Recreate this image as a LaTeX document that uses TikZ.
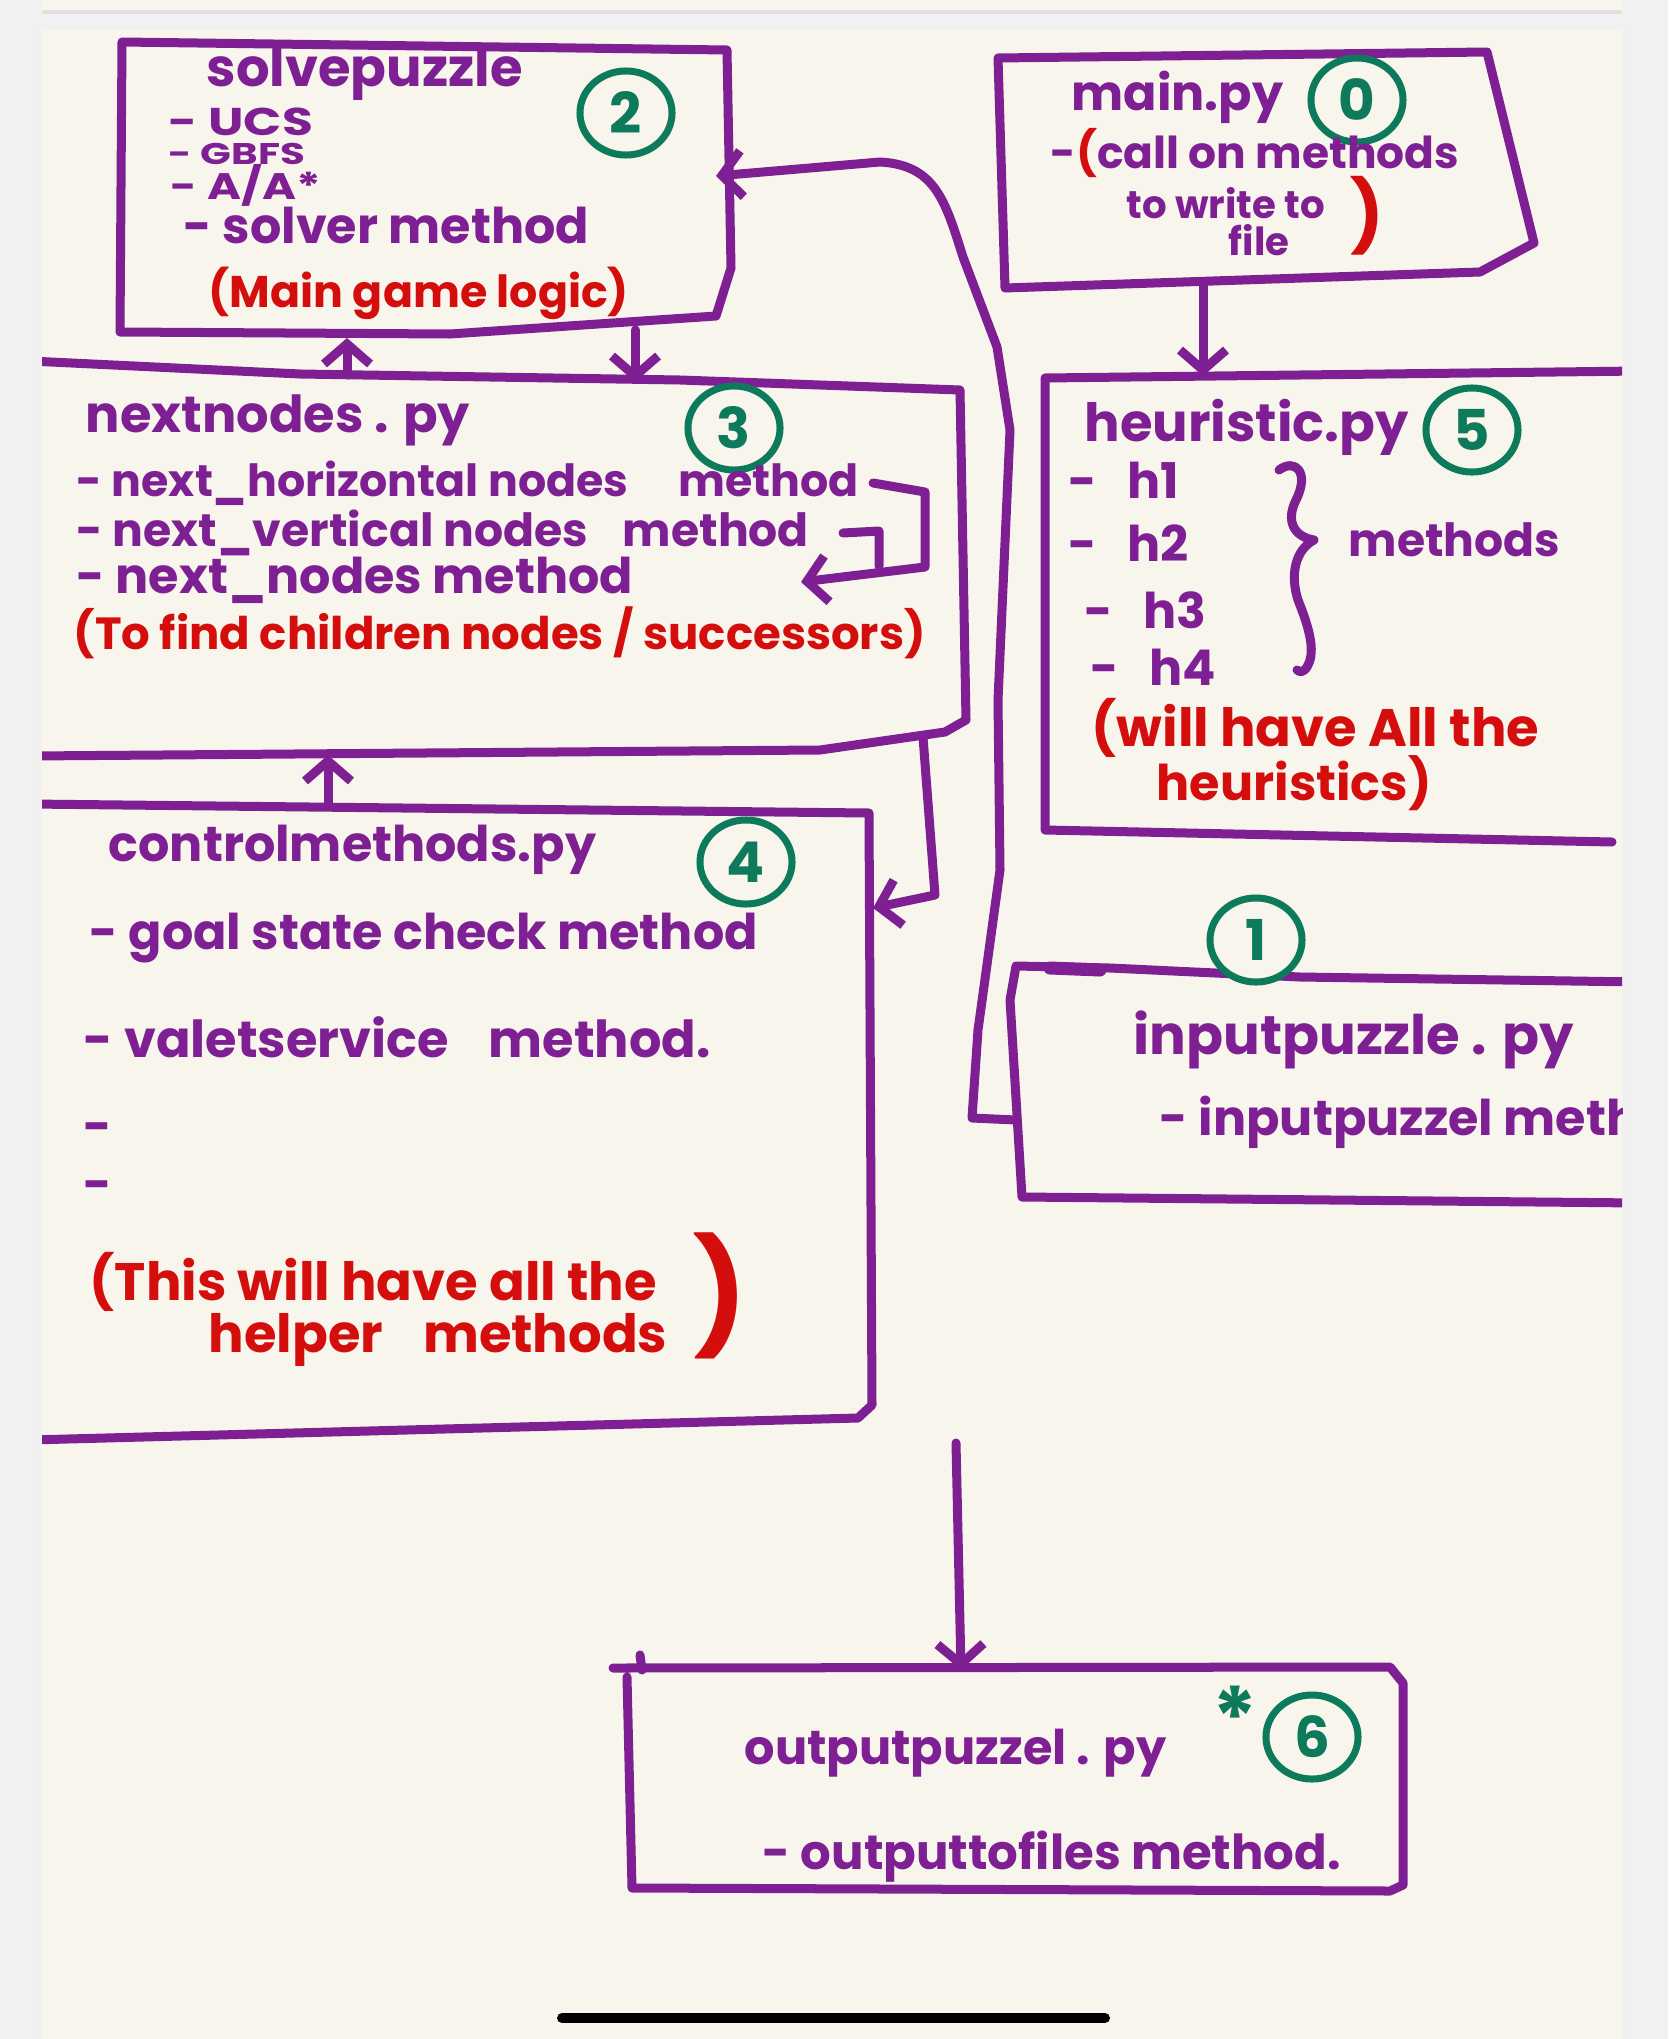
\documentclass[tikz,border=0pt]{standalone}
\usepackage{fontspec}
\setmainfont{Poppins}
\usetikzlibrary{arrows.meta, shapes.geometric, positioning}
\definecolor{penpurple}{HTML}{7E2094}
\definecolor{penred}{HTML}{D40D0D}
\definecolor{pengreen}{HTML}{0D7A5B}
\definecolor{paper}{HTML}{F7F5EC}
\definecolor{margin}{HTML}{F1F1F1}

\begin{document}
\begin{tikzpicture}[x=0.01cm, y=-0.01cm, line cap=round, line join=round,
		pen/.style={draw=penpurple, line width=0.09cm},
		arr/.style={pen, -{Straight Barb[length=0.2cm, width=0.46cm]}},
		txt/.style={anchor=west, inner sep=0pt, text=penpurple, font=\bfseries\fontsize{#1}{#1}\selectfont},
		txt/.default=14pt,
		note/.style={txt=#1, text=penred},
		note/.default=14pt,
		num/.style={ellipse, draw=pengreen, fill=paper, line width=0.07cm, text=pengreen, inner sep=0pt,
			minimum width=0.92cm, minimum height=0.84cm, font=\bfseries\fontsize{16pt}{16pt}\selectfont}]
			\useasboundingbox (0,0) rectangle (1668,2039);
			% 背景
			\fill[margin] (0,0) rectangle (1668,2039);
			\fill[black!12] (42,10) rectangle (1622,14);
			\fill[paper] (42,0) rectangle (1622,10);
			\fill[black!6] (39,26) rectangle (1626,2039);
			\fill[paper] (42,29) rectangle (1622,2039);
			\begin{scope}
			\clip (42,29) rectangle (1622,2039);
			% 绘制方框
			\draw[pen] (122,42) -- (727,50) -- (731,268) -- (716,316) -- (450,334) -- (120,332) -- cycle;
			\draw[pen] (998,58) -- (1487,52) -- (1534,243) -- (1480,272) -- (1005,288) -- cycle;
			\draw[pen] (1640,371) -- (1045,378) -- (1045,830) -- (1612,842);
			\draw[pen] (30,361) -- (300,374) -- (680,380) -- (960,390) -- (966,720) -- (945,732) -- (820,750) -- (30,756);
			\draw[pen] (30,804) -- (869,813) -- (872,1405) -- (858,1418) -- (30,1440);
			\draw[pen] (1640,982) -- (1300,977) -- (1110,968) -- (1016,966) -- (1010,1000) -- (1022,1197) -- (1640,1203);
			\draw[pen, line width=0.13cm] (1050,968) -- (1100,970);
			\draw[pen] (640,1655) -- (642,1670);
			\draw[pen] (613,1668) -- (1390,1667) -- (1403,1683) -- (1403,1885) -- (1390,1891) -- (632,1888) -- (627,1677);
			% 连线端点
			\coordinate (solveR) at (716,176);
			\coordinate (solveB1) at (347,338);
			\coordinate (solveB2) at (635,330);
			\coordinate (mainB) at (1203,282);
			\coordinate (heurT) at (1203,376);
			\coordinate (nextT1) at (347,375);
			\coordinate (nextT2) at (635,382);
			\coordinate (nextB1) at (328,755);
			\coordinate (nextB2) at (923,737);
			\coordinate (ctrlT) at (328,806);
			\coordinate (ctrlR) at (873,908);
			\coordinate (inpL) at (1016,1120);
			\coordinate (outIn) at (956,1443);
			\coordinate (outT) at (961,1670);
			% 连线
			\draw[arr] (mainB) -- (heurT);
			\draw[arr] (nextT1) -- (solveB1);
			\draw[arr] (solveB2) -- (nextT2);
			\draw[arr] (ctrlT) -- (nextB1);
			\draw[arr] (nextB2) -- (935,895) -- (ctrlR);
			\draw[arr] (inpL) -- (972,1118) -- (978,1030) -- (1000,870) -- (998,700) -- (1010,430) -- (997,347) -- (963,257)
				.. controls (945,200) and (935,165) .. (880,162) -- (solveR);
			\draw[arr] (outIn) -- (outT);
			\draw[arr] (873,483) -- (925,492) -- (925,567) -- (801,582);
			\draw[pen] (843,533) -- (879,531) -- (879,566);
			\draw[pen] (1279,470) .. controls (1295,458) and (1310,472) .. (1296,500)
				.. controls (1285,522) and (1295,537) .. (1314,540)
				.. controls (1295,550) and (1290,575) .. (1298,600)
				.. controls (1308,625) and (1316,650) .. (1308,665)
				.. controls (1305,672) and (1300,673) .. (1297,670);
			% 编号
			\foreach \n/\x/\y in {0/1357/100, 1/1256/940, 2/626/113, 3/734/428, 4/746/862, 5/1472/430, 6/1312/1737} {
				\node[num] (num\n) at (\x,\y) {\n};
			}
			\node[txt=24pt, text=pengreen] (star) at (1212,1717) {*};
			% solvepuzzle
			\node[txt=15pt] (solvet) at (206,74) {solvepuzzle};
			\node[txt=11pt] (ucs) at (168,122) {\scalebox{1.3}[1]{- UCS}};
			\node[txt=8.5pt] (gbfs) at (168,154) {\scalebox{1.35}[1]{- GBFS}};
			\node[txt=10.5pt] (astar) at (170,185) {\scalebox{1.25}[1]{- A/A*}};
			\node[txt] (solver) at (183,225) {- solver method};
			\node[note=12.6pt] (logic) at (208,293) {(Main game logic)};
			% main.py
			\node[txt=14pt] (maint) at (1071,97) {main.py};
			\node[txt=12.5pt] (call) at (1050,153) {-{\color{penred}(}call on methods};
			\node[txt=11pt] (write) at (1126,203) {to write to};
			\node[txt=11pt] (file) at (1228,240) {file};
			\node[note=20pt] (mainpar) at (1350,216) {)};
			% nextnodes.py
			\node[txt=14.5pt] (nextt) at (85,420) {nextnodes . py};
			\node[txt=12.6pt] (hor) at (76,483) {- next\_horizontal nodes\hspace{0.5cm}method};
			\node[txt=13pt] (ver) at (76,533) {- next\_vertical nodes\hspace{0.35cm}method};
			\node[txt] (nn) at (76,580) {- next\_nodes method};
			\node[note=12.8pt] (succ) at (73,633) {(To find children nodes / successors)};
			% heuristic.py
			\node[txt=15pt] (heurt) at (1084,427) {heuristic.py};
			\foreach \i/\x/\y in {1/1068/480, 2/1068/543, 3/1084/610, 4/1090/667} {
				\node[txt] (h\i) at (\x,\y) {-\hspace{0.3cm}h\i};
			}
			\node[txt=13pt] (meth) at (1348,540) {methods};
			\node[note=15pt] (allh) at (1091,728) {(will have All the};
			\node[note] (heurs) at (1156,783) {heuristics)};
			% controlmethods.py
			\node[txt=14pt] (ctrlt) at (108,850) {controlmethods.py};
			\node[txt=14pt] (goal) at (89,938) {- goal state check method};
			\node[txt=14.5pt] (valet) at (83,1037) {- valetservice\hspace{0.4cm}method.};
			\foreach \y in {1133,1191} {
				\node[txt] (dash\y) at (83,\y) {-};
			}
			\node[note=15pt] (help1) at (89,1282) {(This will have all the};
			\node[note=15pt] (help2) at (208,1340) {helper\hspace{0.4cm}methods};
			\node[note=32pt] (ctrlpar) at (693,1296) {)};
			% inputpuzzle.py
			\node[txt=15.5pt] (inpt) at (1133,1040) {inputpuzzle . py};
			\node[txt] (inpm) at (1159,1122) {- inputpuzzel method};
			% outputpuzzel.py
			\node[txt=13.6pt] (outt) at (744,1753) {outputpuzzel . py};
			\node[txt=13.7pt] (outm) at (762,1857) {- outputtofiles method.};
			\end{scope}
			% 底部横条
			\draw[line width=0.1cm] (562,2018) -- (1105,2018);
		\end{tikzpicture}
\end{document}
